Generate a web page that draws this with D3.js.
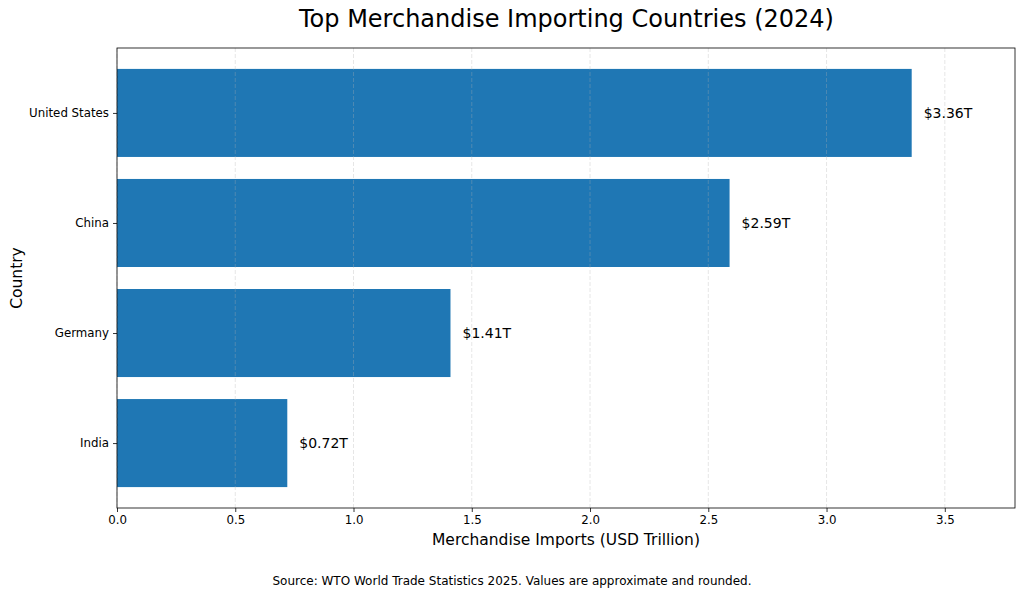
<!DOCTYPE html>
<html><head><meta charset="utf-8">
<script src="https://cdn.jsdelivr.net/npm/d3@7"></script>
<style>body{margin:0;background:#fff;}svg{display:block;font-family:"DejaVu Sans",sans-serif;}</style>
</head><body>
<script>
const countries = ["United States", "China", "Germany", "India"];
const imports = [3.36, 2.59, 1.41, 0.72];
const xTicks = [0, 0.5, 1.0, 1.5, 2.0, 2.5, 3.0, 3.5];
const valueLabels = ["$3.36T", "$2.59T", "$1.41T", "$0.72T"];

const W = 1024, H = 597;
const m = {left: 117, right: 1015, top: 48, bottom: 508};
const svg = d3.select("body").append("svg").attr("width", W).attr("height", H);

const x = d3.scaleLinear().domain([0, d3.max(imports) * 1.13]).range([m.left, m.right]);
// matplotlib-like categorical positions: index 0..n-1, bar height 0.8, 5% margins
const n = countries.length;
const lo = -0.4 - 0.19, hi = (n - 1) + 0.4 + 0.19;
const y = d3.scaleLinear().domain([lo, hi]).range([m.top, m.bottom]);

// bars
svg.append("g").selectAll("rect").data(countries).join("rect")
  .attr("x", x(0))
  .attr("y", (d, i) => y(i - 0.4))
  .attr("width", (d, i) => x(imports[i]) - x(0))
  .attr("height", (d, i) => y(i + 0.4) - y(i - 0.4))
  .attr("fill", "#1f77b4");

// grid
svg.append("g").selectAll("line").data(xTicks).join("line")
  .attr("x1", d => x(d)).attr("x2", d => x(d))
  .attr("y1", m.top).attr("y2", m.bottom)
  .attr("stroke", "#b0b0b0").attr("stroke-opacity", 0.4)
  .attr("stroke-dasharray", "4,2").attr("stroke-width", 0.8);

// value labels
svg.append("g").selectAll("text").data(countries).join("text")
  .attr("x", (d, i) => x(imports[i]) + 12)
  .attr("y", (d, i) => y(i))
  .attr("dy", "0.35em")
  .attr("font-size", 14).attr("fill", "#000")
  .text((d, i) => valueLabels[i]);

// frame
svg.append("rect").attr("x", m.left).attr("y", m.top)
  .attr("width", m.right - m.left).attr("height", m.bottom - m.top)
  .attr("fill", "none").attr("stroke", "#000").attr("stroke-width", 0.8);

// x axis
const xAxis = d3.axisBottom(x).tickValues(xTicks).tickFormat(d3.format(".1f")).tickSizeOuter(0).tickSize(4).tickPadding(4);
const gx = svg.append("g").attr("transform", `translate(0,${m.bottom})`).call(xAxis);
gx.select(".domain").remove();
gx.selectAll("text").attr("font-size", 11.8).attr("fill", "#000").attr("font-family", "DejaVu Sans");
gx.selectAll("line").attr("stroke", "#000").attr("stroke-width", 0.8);

// y axis
const yAxis = d3.axisLeft(y).tickValues(d3.range(n)).tickFormat(i => countries[i]).tickSize(4).tickPadding(4);
const gy = svg.append("g").attr("transform", `translate(${m.left},0)`).call(yAxis);
gy.select(".domain").remove();
gy.selectAll("text").attr("font-size", 11.8).attr("fill", "#000").attr("font-family", "DejaVu Sans");
gy.selectAll("line").attr("stroke", "#000").attr("stroke-width", 0.8);

// title
svg.append("text").attr("x", (m.left + m.right) / 2 + 0.5).attr("y", 27).attr("text-anchor", "middle")
  .attr("font-size", 24).attr("fill", "#000")
  .text("Top Merchandise Importing Countries (2024)");

// axis labels
svg.append("text").attr("x", (m.left + m.right) / 2).attr("y", 545).attr("text-anchor", "middle")
  .attr("font-size", 15.5).attr("fill", "#000").text("Merchandise Imports (USD Trillion)");
svg.append("text").attr("transform", `translate(22,${(m.top + m.bottom) / 2}) rotate(-90)`)
  .attr("text-anchor", "middle").attr("font-size", 15.5).attr("fill", "#000").text("Country");

// source
svg.append("text").attr("x", 512).attr("y", 585).attr("text-anchor", "middle")
  .attr("font-size", 12).attr("fill", "#000")
  .text("Source: WTO World Trade Statistics 2025. Values are approximate and rounded.");
</script>
</body></html>
